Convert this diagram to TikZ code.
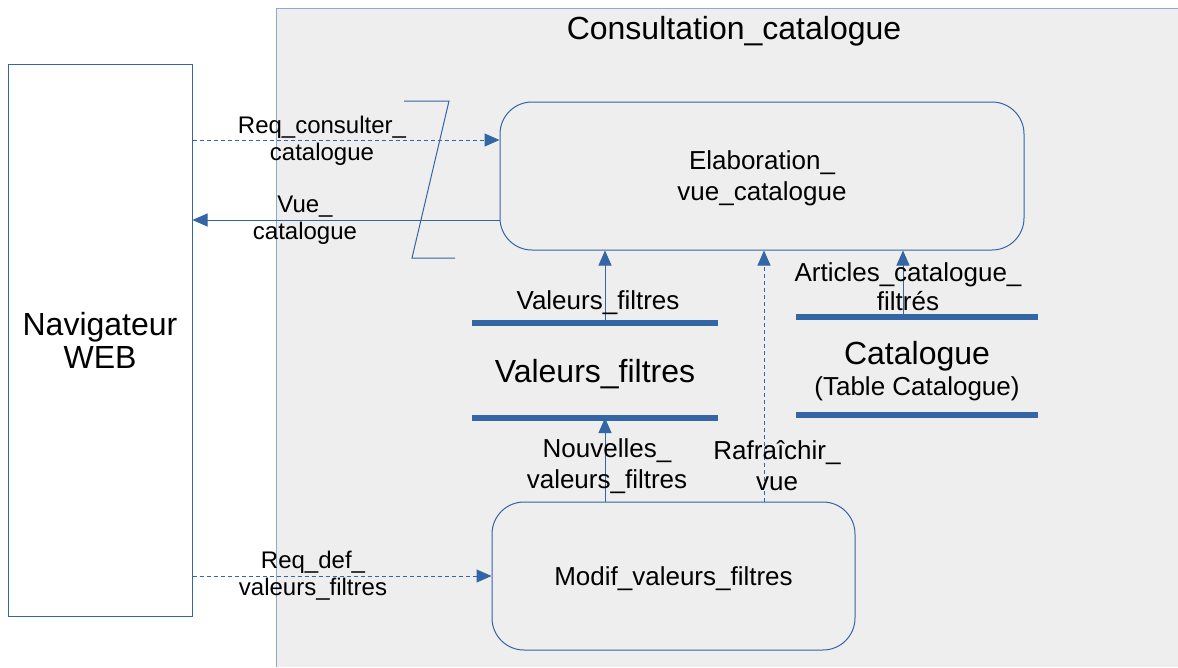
\documentclass[tikz,border=0pt]{standalone}
\usepackage{fontspec}
\setmainfont{Liberation Sans}
\usetikzlibrary{arrows.meta}
\definecolor{dfdblue}{HTML}{3465A4}
\definecolor{panelgray}{HTML}{EEEEEE}
\tikzset{
  small/.style={font=\fontsize{26}{30}\selectfont},
  smaller/.style={font=\fontsize{24}{27}\selectfont},
  big/.style={font=\fontsize{32}{33}\selectfont},
  flow/.style={draw=dfdblue, line width=1pt, -{Triangle[length=15pt,width=13pt]}},
  eventflow/.style={flow, dash pattern=on 4pt off 3pt},
  process/.style={draw=dfdblue, line width=1pt, rounded corners=32pt, fill=panelgray,
    align=center, text depth=0pt},
  store/.style={inner sep=0pt, outer sep=0pt},
  storeline/.style={draw=dfdblue, line width=6pt},
  lbl/.style={small, align=center, inner sep=0pt},
  extlbl/.style={smaller, align=center, inner sep=0pt},
}
\begin{document}
\begin{tikzpicture}[x=1pt,y=-1pt]
\useasboundingbox (0,0) rectangle (1178,667);
\fill[white] (0,0) rectangle (1178,667);

% system boundary
\fill[panelgray] (276,8) rectangle (1178,667);
\draw[dfdblue!55, line width=1pt] (276,667) -- (276,8) -- (1178,8);
\node[big, inner sep=0pt, text depth=0pt] (title) at (734,28) {Consultation\_catalogue};

% external entity
\node[draw=dfdblue, fill=white, line width=1pt, minimum width=184pt,
  minimum height=552pt, big, align=center] (nav) at (100,340) {Navigateur\\WEB};

% processes
\node[process, font=\fontsize{26}{31}\selectfont, minimum width=524pt,
  minimum height=148pt] (elab) at (762,176) {Elaboration\_\\vue\_catalogue};
\node[process, small, minimum width=363pt, minimum height=148pt] (modif)
  at (673.5,576) {Modif\_valeurs\_filtres};

% data stores
\node[store, minimum width=246pt, minimum height=95pt, big, text depth=0pt] (vf)
  at (595,370.5) {Valeurs\_filtres};
\draw[storeline] (vf.north west) -- (vf.north east);
\draw[storeline] (vf.south west) -- (vf.south east);

\node[store, minimum width=242pt, minimum height=98pt] (cat) at (917,366) {};
\draw[storeline] (cat.north west) -- (cat.north east);
\draw[storeline] (cat.south west) -- (cat.south east);
\node[big, inner sep=0pt] (catname) at (917,356) {Catalogue};
\node[small, inner sep=0pt] (cattable) at (917,389) {(Table Catalogue)};

% flows with the browser
\path ([yshift=36pt]elab.west) coordinate (reqin);
\path ([yshift=-44pt]elab.west) coordinate (vueout);
\draw[eventflow] (nav.east |- reqin) -- (reqin);
\node[extlbl] (lreq) at (322,141) {Req\_consulter\_\\catalogue};
\draw[flow] (vueout) -- (nav.east |- vueout);
\node[extlbl] (lvue) at (305,220) {Vue\_\\catalogue};
\draw[eventflow] (nav.east |- modif.west) -- (modif.west);
\node[extlbl] (lreqdef) at (313,576) {Req\_def\_\\valeurs\_filtres};

% interface break mark
\draw[dfdblue, line width=1pt] (404,101) -- (449,101) -- (412,258) -- (455,258);

% internal flows
\draw[flow] ([xshift=10pt]vf.north) -- ([xshift=10pt]vf.north |- elab.south);
\node[lbl] (lvf) at (598,303) {Valeurs\_filtres};
\draw[flow] ([xshift=-14pt]cat.north) -- ([xshift=-14pt]cat.north |- elab.south);
\node[lbl, font=\fontsize{26}{29}\selectfont] (lart) at (908,287)
  {Articles\_catalogue\_\\filtrés};
\draw[flow] ([xshift=10pt]vf.south |- modif.north) -- ([xshift=10pt]vf.south);
\node[lbl, font=\fontsize{26}{31}\selectfont] (lnouv) at (607,466)
  {Nouvelles\_\\valeurs\_filtres};
\draw[eventflow] ([xshift=90.5pt]modif.north) -- ([xshift=90.5pt]modif.north |- elab.south);
\node[lbl, font=\fontsize{26}{31}\selectfont] (lrafr) at (777,466) {Rafraîchir\_\\vue};
\end{tikzpicture}
\end{document}
